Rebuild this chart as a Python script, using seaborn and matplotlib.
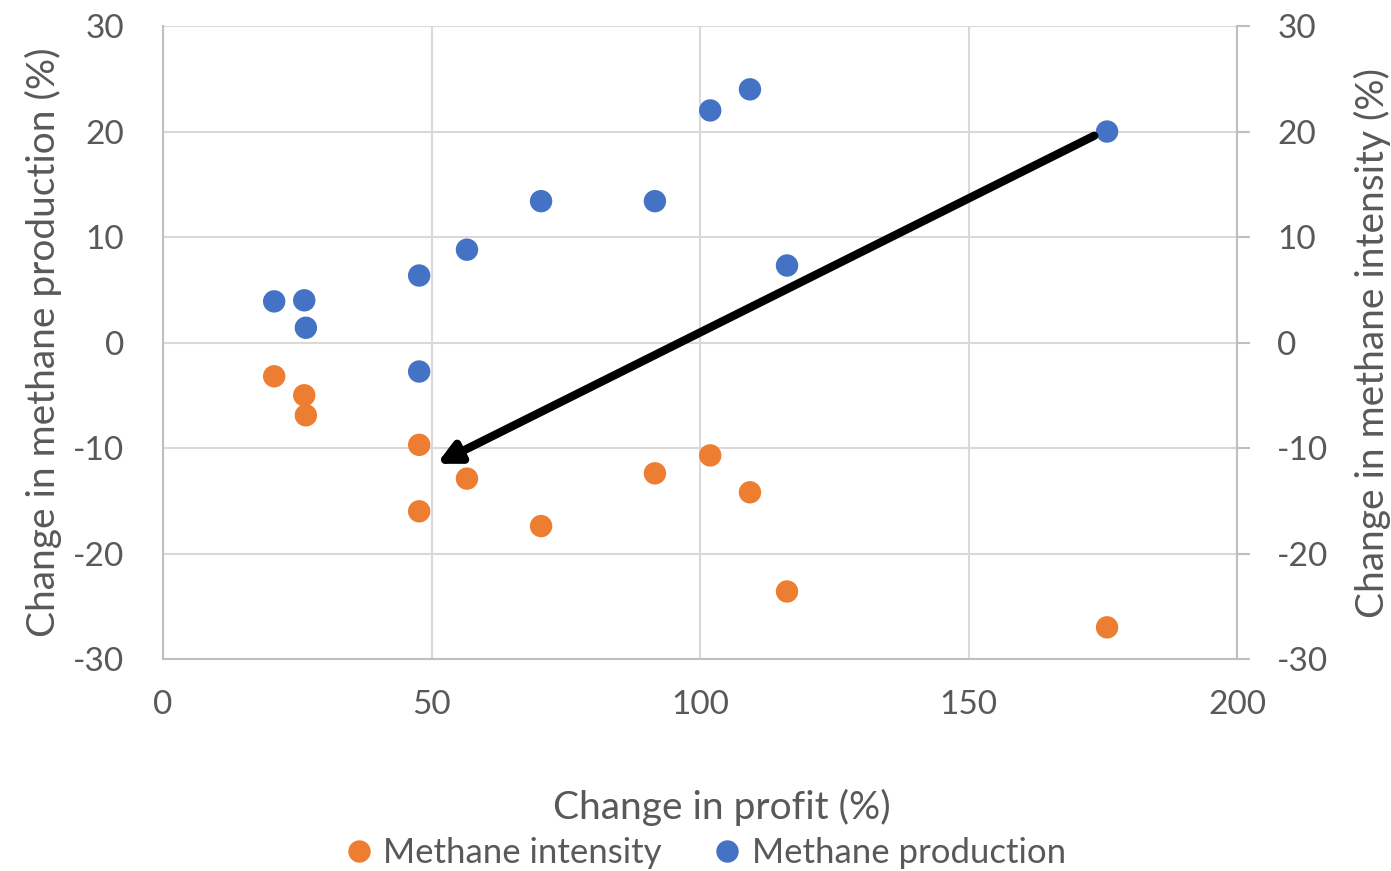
import pandas as pd
import matplotlib.pyplot as plt
import seaborn as sns

sns.set_style("white")
plt.rcParams['font.family'] = ['Lato', 'DejaVu Sans']
plt.rcParams['axes.unicode_minus'] = False

# data
profit = [20.7, 26.3, 26.6, 47.7, 47.7, 56.6, 70.4, 91.6, 101.9, 109.3, 116.2, 175.8]
production = [3.9, 4.0, 1.4, 6.35, -2.75, 8.8, 13.4, 13.4, 22.0, 24.0, 7.3, 20.0]
intensity = [-3.2, -5.0, -6.9, -16.0, -9.7, -12.9, -17.4, -12.4, -10.7, -14.2, -23.6, -27.0]
series = ["Methane intensity", "Methane production"]
colors = ["#ED7D31", "#4472C4"]
x_ticks = [0, 50, 100, 150, 200]
y_ticks = [-30, -20, -10, 0, 10, 20, 30]
arrow_start = (173.4, 19.6)
arrow_end = (51.0, -11.5)

df = pd.concat([
    pd.DataFrame({"profit": profit, "change": intensity, "series": series[0]}),
    pd.DataFrame({"profit": profit, "change": production, "series": series[1]}),
])

fig = plt.figure(figsize=(13.91, 8.71), dpi=100)
ax = fig.add_axes([0.1172, 0.2434, 0.7721, 0.7267])
grey = '#595959'
grid = '#D9D9D9'

sns.scatterplot(data=df, x="profit", y="change", hue="series", hue_order=series,
                palette=colors, s=260, edgecolor='none', ax=ax, zorder=3)

ax.set_xlim(0, 200)
ax.set_ylim(-30, 30)
ax.set_xticks(x_ticks)
ax.set_yticks(y_ticks)
ax.grid(True, color=grid, lw=1.5)
for side in ['top', 'right']:
    ax.spines[side].set_visible(False)
for side in ['left', 'bottom']:
    ax.spines[side].set_color('#BFBFBF')
    ax.spines[side].set_linewidth(1.5)
ax.tick_params(axis='both', length=0, labelsize=24, labelcolor=grey)
ax.tick_params(axis='y', pad=28)
ax.tick_params(axis='x', pad=22)
ax.set_xlabel("Change in profit (%)", fontsize=28, color=grey, labelpad=50)
ax.xaxis.label.set_x(0.52)
ax.set_ylabel("Change in methane production (%)", fontsize=28, color=grey, labelpad=8)

ax2 = ax.twinx()
ax2.set_ylim(-30, 30)
ax2.set_yticks(y_ticks)
for side in ['top', 'left', 'bottom']:
    ax2.spines[side].set_visible(False)
ax2.spines['right'].set_color('#BFBFBF')
ax2.spines['right'].set_linewidth(1.5)
ax2.tick_params(axis='y', length=9, width=1.5, color='#BFBFBF', labelsize=24,
                labelcolor=grey, pad=20)
ax2.set_ylabel("Change in methane intensity (%)", fontsize=28, color=grey, labelpad=18)

ax.annotate('', xy=arrow_end, xytext=arrow_start,
            arrowprops=dict(arrowstyle='-|>', lw=6, color='black', mutation_scale=32,
                            shrinkA=0, shrinkB=0), zorder=4)

handles, labels = ax.get_legend_handles_labels()
ax.legend(handles, labels, loc='center', bbox_to_anchor=(0.507, 0.021),
          bbox_transform=fig.transFigure, ncol=2, frameon=False, fontsize=25,
          labelcolor=grey, handlelength=0.8, handletextpad=0.3, columnspacing=1.5,
          markerscale=1.0)

fig.savefig("out.png", dpi=100)
